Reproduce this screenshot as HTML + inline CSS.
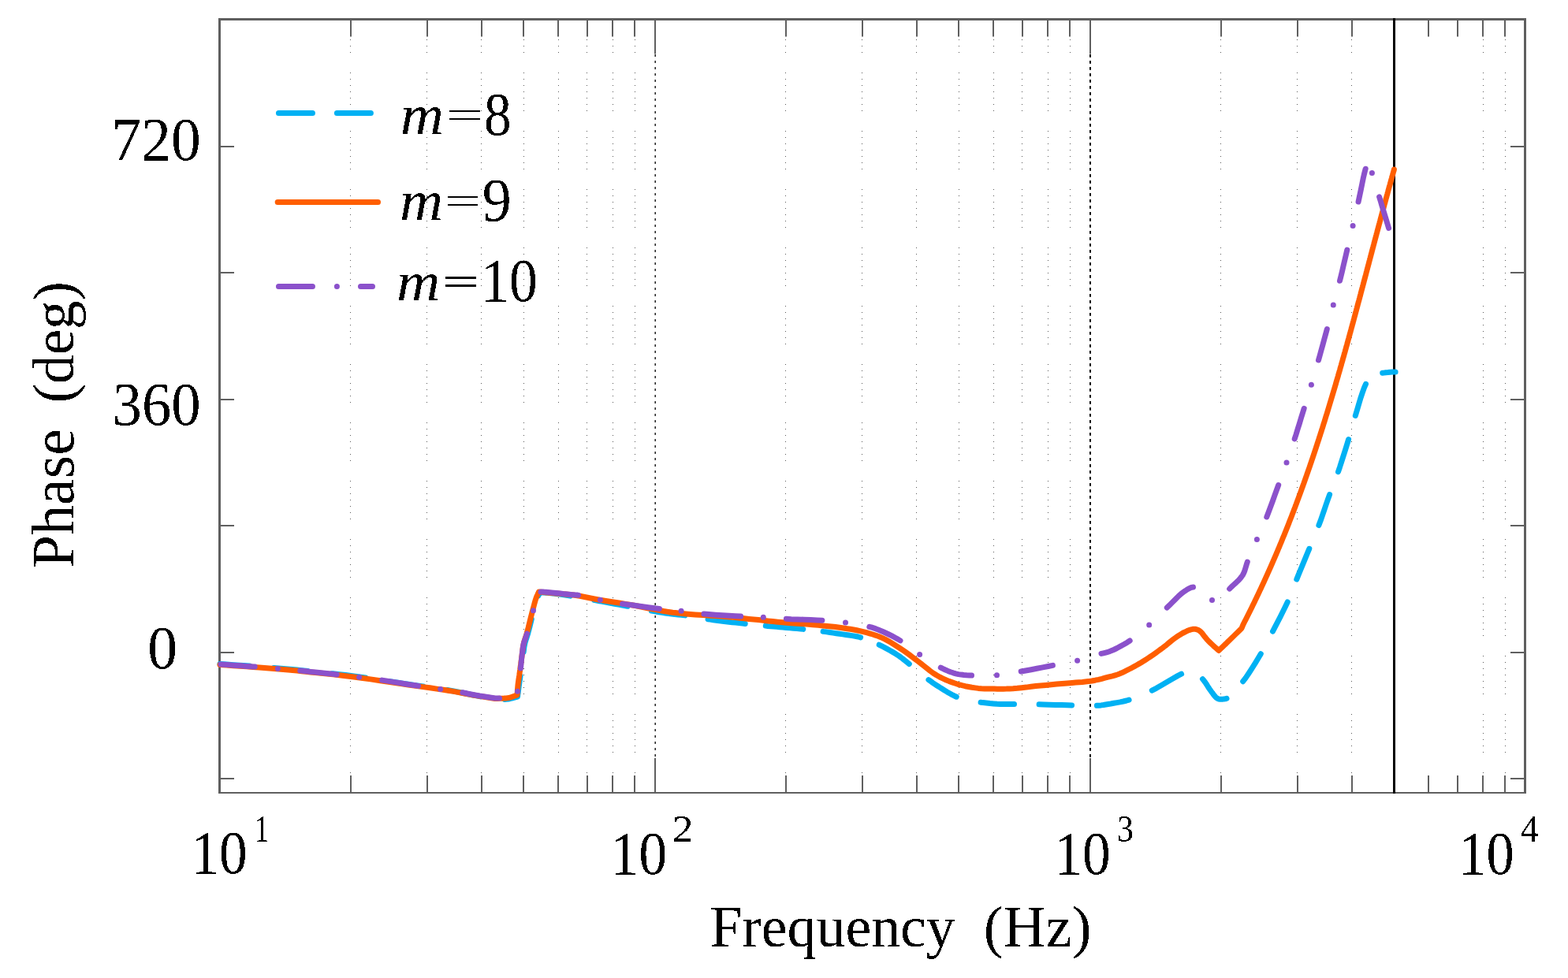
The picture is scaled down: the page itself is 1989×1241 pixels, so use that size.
<!DOCTYPE html>
<html><head><meta charset="utf-8"><title>Phase plot</title>
<style>
html,body{margin:0;padding:0;background:#fff;}
body{width:1989px;height:1241px;overflow:hidden;}
svg{display:block;}
text{font-family:"Liberation Serif","Times New Roman",serif;fill:#000;}
</style></head><body>
<svg width="1989" height="1241" viewBox="0 0 1989 1241">
<rect x="0" y="0" width="1989" height="1241" fill="#fff"/>
<line x1="444.5" y1="26" x2="444.5" y2="1005" stroke="#5a5a5a" stroke-width="1" stroke-dasharray="1 7 1 7 1 7 1 7 1 7 1 7 1 25" stroke-dashoffset="8"/>
<line x1="541.5" y1="26" x2="541.5" y2="1005" stroke="#5a5a5a" stroke-width="1" stroke-dasharray="1 7 1 7 1 7 1 7 1 7 1 7 1 25" stroke-dashoffset="8"/>
<line x1="610.5" y1="26" x2="610.5" y2="1005" stroke="#5a5a5a" stroke-width="1" stroke-dasharray="1 7 1 7 1 7 1 7 1 7 1 7 1 25" stroke-dashoffset="8"/>
<line x1="664.5" y1="26" x2="664.5" y2="1005" stroke="#5a5a5a" stroke-width="1" stroke-dasharray="1 7 1 7 1 7 1 7 1 7 1 7 1 25" stroke-dashoffset="8"/>
<line x1="708.5" y1="26" x2="708.5" y2="1005" stroke="#5a5a5a" stroke-width="1" stroke-dasharray="1 7 1 7 1 7 1 7 1 7 1 7 1 25" stroke-dashoffset="8"/>
<line x1="744.5" y1="26" x2="744.5" y2="1005" stroke="#5a5a5a" stroke-width="1" stroke-dasharray="1 7 1 7 1 7 1 7 1 7 1 7 1 25" stroke-dashoffset="8"/>
<line x1="777.5" y1="26" x2="777.5" y2="1005" stroke="#5a5a5a" stroke-width="1" stroke-dasharray="1 7 1 7 1 7 1 7 1 7 1 7 1 25" stroke-dashoffset="8"/>
<line x1="805.5" y1="26" x2="805.5" y2="1005" stroke="#5a5a5a" stroke-width="1" stroke-dasharray="1 7 1 7 1 7 1 7 1 7 1 7 1 25" stroke-dashoffset="8"/>
<line x1="996.5" y1="26" x2="996.5" y2="1005" stroke="#5a5a5a" stroke-width="1" stroke-dasharray="1 7 1 7 1 7 1 7 1 7 1 7 1 25" stroke-dashoffset="8"/>
<line x1="1093.5" y1="26" x2="1093.5" y2="1005" stroke="#5a5a5a" stroke-width="1" stroke-dasharray="1 7 1 7 1 7 1 7 1 7 1 7 1 25" stroke-dashoffset="8"/>
<line x1="1162.5" y1="26" x2="1162.5" y2="1005" stroke="#5a5a5a" stroke-width="1" stroke-dasharray="1 7 1 7 1 7 1 7 1 7 1 7 1 25" stroke-dashoffset="8"/>
<line x1="1216.5" y1="26" x2="1216.5" y2="1005" stroke="#5a5a5a" stroke-width="1" stroke-dasharray="1 7 1 7 1 7 1 7 1 7 1 7 1 25" stroke-dashoffset="8"/>
<line x1="1260.5" y1="26" x2="1260.5" y2="1005" stroke="#5a5a5a" stroke-width="1" stroke-dasharray="1 7 1 7 1 7 1 7 1 7 1 7 1 25" stroke-dashoffset="8"/>
<line x1="1296.5" y1="26" x2="1296.5" y2="1005" stroke="#5a5a5a" stroke-width="1" stroke-dasharray="1 7 1 7 1 7 1 7 1 7 1 7 1 25" stroke-dashoffset="8"/>
<line x1="1329.5" y1="26" x2="1329.5" y2="1005" stroke="#5a5a5a" stroke-width="1" stroke-dasharray="1 7 1 7 1 7 1 7 1 7 1 7 1 25" stroke-dashoffset="8"/>
<line x1="1357.5" y1="26" x2="1357.5" y2="1005" stroke="#5a5a5a" stroke-width="1" stroke-dasharray="1 7 1 7 1 7 1 7 1 7 1 7 1 25" stroke-dashoffset="8"/>
<line x1="1548.5" y1="26" x2="1548.5" y2="1005" stroke="#5a5a5a" stroke-width="1" stroke-dasharray="1 7 1 7 1 7 1 7 1 7 1 7 1 25" stroke-dashoffset="8"/>
<line x1="1645.5" y1="26" x2="1645.5" y2="1005" stroke="#5a5a5a" stroke-width="1" stroke-dasharray="1 7 1 7 1 7 1 7 1 7 1 7 1 25" stroke-dashoffset="8"/>
<line x1="1714.5" y1="26" x2="1714.5" y2="1005" stroke="#5a5a5a" stroke-width="1" stroke-dasharray="1 7 1 7 1 7 1 7 1 7 1 7 1 25" stroke-dashoffset="8"/>
<line x1="1768.5" y1="26" x2="1768.5" y2="1005" stroke="#5a5a5a" stroke-width="1" stroke-dasharray="1 7 1 7 1 7 1 7 1 7 1 7 1 25" stroke-dashoffset="8"/>
<line x1="1881.5" y1="26" x2="1881.5" y2="1005" stroke="#5a5a5a" stroke-width="1" stroke-dasharray="1 7 1 7 1 7 1 7 1 7 1 7 1 25" stroke-dashoffset="8"/>
<line x1="1909.5" y1="26" x2="1909.5" y2="1005" stroke="#5a5a5a" stroke-width="1" stroke-dasharray="1 7 1 7 1 7 1 7 1 7 1 7 1 25" stroke-dashoffset="8"/>
<line x1="831.2" y1="26" x2="831.2" y2="1005" stroke="#222" stroke-width="1.5" stroke-dasharray="3 5" stroke-dashoffset="5"/>
<line x1="1383" y1="26" x2="1383" y2="1005" stroke="#000" stroke-width="2" stroke-dasharray="3.7 4.3" stroke-dashoffset="5"/>
<line x1="445.0" y1="24.5" x2="445.0" y2="46.5" stroke="#5f5f5f" stroke-width="2"/>
<line x1="445.0" y1="1006.0" x2="445.0" y2="984.0" stroke="#5f5f5f" stroke-width="2"/>
<line x1="542.0" y1="24.5" x2="542.0" y2="46.5" stroke="#5f5f5f" stroke-width="2"/>
<line x1="542.0" y1="1006.0" x2="542.0" y2="984.0" stroke="#5f5f5f" stroke-width="2"/>
<line x1="611.0" y1="24.5" x2="611.0" y2="46.5" stroke="#5f5f5f" stroke-width="2"/>
<line x1="611.0" y1="1006.0" x2="611.0" y2="984.0" stroke="#5f5f5f" stroke-width="2"/>
<line x1="664.0" y1="24.5" x2="664.0" y2="46.5" stroke="#5f5f5f" stroke-width="2"/>
<line x1="664.0" y1="1006.0" x2="664.0" y2="984.0" stroke="#5f5f5f" stroke-width="2"/>
<line x1="708.0" y1="24.5" x2="708.0" y2="46.5" stroke="#5f5f5f" stroke-width="2"/>
<line x1="708.0" y1="1006.0" x2="708.0" y2="984.0" stroke="#5f5f5f" stroke-width="2"/>
<line x1="745.0" y1="24.5" x2="745.0" y2="46.5" stroke="#5f5f5f" stroke-width="2"/>
<line x1="745.0" y1="1006.0" x2="745.0" y2="984.0" stroke="#5f5f5f" stroke-width="2"/>
<line x1="777.0" y1="24.5" x2="777.0" y2="46.5" stroke="#5f5f5f" stroke-width="2"/>
<line x1="777.0" y1="1006.0" x2="777.0" y2="984.0" stroke="#5f5f5f" stroke-width="2"/>
<line x1="805.0" y1="24.5" x2="805.0" y2="46.5" stroke="#5f5f5f" stroke-width="2"/>
<line x1="805.0" y1="1006.0" x2="805.0" y2="984.0" stroke="#5f5f5f" stroke-width="2"/>
<line x1="831.0" y1="24.5" x2="831.0" y2="68.5" stroke="#5f5f5f" stroke-width="2"/>
<line x1="831.0" y1="1006.0" x2="831.0" y2="962.0" stroke="#5f5f5f" stroke-width="2"/>
<line x1="997.0" y1="24.5" x2="997.0" y2="46.5" stroke="#5f5f5f" stroke-width="2"/>
<line x1="997.0" y1="1006.0" x2="997.0" y2="984.0" stroke="#5f5f5f" stroke-width="2"/>
<line x1="1094.0" y1="24.5" x2="1094.0" y2="46.5" stroke="#5f5f5f" stroke-width="2"/>
<line x1="1094.0" y1="1006.0" x2="1094.0" y2="984.0" stroke="#5f5f5f" stroke-width="2"/>
<line x1="1163.0" y1="24.5" x2="1163.0" y2="46.5" stroke="#5f5f5f" stroke-width="2"/>
<line x1="1163.0" y1="1006.0" x2="1163.0" y2="984.0" stroke="#5f5f5f" stroke-width="2"/>
<line x1="1216.0" y1="24.5" x2="1216.0" y2="46.5" stroke="#5f5f5f" stroke-width="2"/>
<line x1="1216.0" y1="1006.0" x2="1216.0" y2="984.0" stroke="#5f5f5f" stroke-width="2"/>
<line x1="1260.0" y1="24.5" x2="1260.0" y2="46.5" stroke="#5f5f5f" stroke-width="2"/>
<line x1="1260.0" y1="1006.0" x2="1260.0" y2="984.0" stroke="#5f5f5f" stroke-width="2"/>
<line x1="1297.0" y1="24.5" x2="1297.0" y2="46.5" stroke="#5f5f5f" stroke-width="2"/>
<line x1="1297.0" y1="1006.0" x2="1297.0" y2="984.0" stroke="#5f5f5f" stroke-width="2"/>
<line x1="1329.0" y1="24.5" x2="1329.0" y2="46.5" stroke="#5f5f5f" stroke-width="2"/>
<line x1="1329.0" y1="1006.0" x2="1329.0" y2="984.0" stroke="#5f5f5f" stroke-width="2"/>
<line x1="1357.0" y1="24.5" x2="1357.0" y2="46.5" stroke="#5f5f5f" stroke-width="2"/>
<line x1="1357.0" y1="1006.0" x2="1357.0" y2="984.0" stroke="#5f5f5f" stroke-width="2"/>
<line x1="1383.0" y1="24.5" x2="1383.0" y2="68.5" stroke="#5f5f5f" stroke-width="2"/>
<line x1="1383.0" y1="1006.0" x2="1383.0" y2="962.0" stroke="#5f5f5f" stroke-width="2"/>
<line x1="1549.0" y1="24.5" x2="1549.0" y2="46.5" stroke="#5f5f5f" stroke-width="2"/>
<line x1="1549.0" y1="1006.0" x2="1549.0" y2="984.0" stroke="#5f5f5f" stroke-width="2"/>
<line x1="1646.0" y1="24.5" x2="1646.0" y2="46.5" stroke="#5f5f5f" stroke-width="2"/>
<line x1="1646.0" y1="1006.0" x2="1646.0" y2="984.0" stroke="#5f5f5f" stroke-width="2"/>
<line x1="1715.0" y1="24.5" x2="1715.0" y2="46.5" stroke="#5f5f5f" stroke-width="2"/>
<line x1="1715.0" y1="1006.0" x2="1715.0" y2="984.0" stroke="#5f5f5f" stroke-width="2"/>
<line x1="1768.0" y1="24.5" x2="1768.0" y2="46.5" stroke="#5f5f5f" stroke-width="2"/>
<line x1="1768.0" y1="1006.0" x2="1768.0" y2="984.0" stroke="#5f5f5f" stroke-width="2"/>
<line x1="1812.0" y1="24.5" x2="1812.0" y2="46.5" stroke="#5f5f5f" stroke-width="2"/>
<line x1="1812.0" y1="1006.0" x2="1812.0" y2="984.0" stroke="#5f5f5f" stroke-width="2"/>
<line x1="1849.0" y1="24.5" x2="1849.0" y2="46.5" stroke="#5f5f5f" stroke-width="2"/>
<line x1="1849.0" y1="1006.0" x2="1849.0" y2="984.0" stroke="#5f5f5f" stroke-width="2"/>
<line x1="1881.0" y1="24.5" x2="1881.0" y2="46.5" stroke="#5f5f5f" stroke-width="2"/>
<line x1="1881.0" y1="1006.0" x2="1881.0" y2="984.0" stroke="#5f5f5f" stroke-width="2"/>
<line x1="1909.0" y1="24.5" x2="1909.0" y2="46.5" stroke="#5f5f5f" stroke-width="2"/>
<line x1="1909.0" y1="1006.0" x2="1909.0" y2="984.0" stroke="#5f5f5f" stroke-width="2"/>
<line x1="278.5" y1="186.0" x2="297.0" y2="186.0" stroke="#5f5f5f" stroke-width="2"/>
<line x1="1934.5" y1="186.0" x2="1916.0" y2="186.0" stroke="#5f5f5f" stroke-width="2"/>
<line x1="278.5" y1="346.0" x2="297.0" y2="346.0" stroke="#5f5f5f" stroke-width="2"/>
<line x1="1934.5" y1="346.0" x2="1916.0" y2="346.0" stroke="#5f5f5f" stroke-width="2"/>
<line x1="278.5" y1="507.0" x2="297.0" y2="507.0" stroke="#5f5f5f" stroke-width="2"/>
<line x1="1934.5" y1="507.0" x2="1916.0" y2="507.0" stroke="#5f5f5f" stroke-width="2"/>
<line x1="278.5" y1="667.0" x2="297.0" y2="667.0" stroke="#5f5f5f" stroke-width="2"/>
<line x1="1934.5" y1="667.0" x2="1916.0" y2="667.0" stroke="#5f5f5f" stroke-width="2"/>
<line x1="278.5" y1="828.0" x2="297.0" y2="828.0" stroke="#5f5f5f" stroke-width="2"/>
<line x1="1934.5" y1="828.0" x2="1916.0" y2="828.0" stroke="#5f5f5f" stroke-width="2"/>
<line x1="278.5" y1="988.0" x2="297.0" y2="988.0" stroke="#5f5f5f" stroke-width="2"/>
<line x1="1934.5" y1="988.0" x2="1916.0" y2="988.0" stroke="#5f5f5f" stroke-width="2"/>
<rect x="277" y="23" width="3" height="984" fill="#5f5f5f"/>
<rect x="1933" y="23" width="3" height="984" fill="#5f5f5f"/>
<rect x="277" y="23" width="1659" height="3" fill="#5f5f5f"/>
<rect x="277" y="1005" width="1659" height="2" fill="#5f5f5f"/>
<rect x="1767" y="23" width="3" height="984" fill="#000"/>
<polyline points="279.0,842.5 287.4,843.1 296.0,843.7 304.5,844.2 312.9,844.8 321.1,845.4 329.0,846.0 335.4,846.5 341.6,847.0 347.7,847.5 353.6,848.0 359.5,848.5 365.5,849.0 371.2,849.5 376.9,850.1 382.5,850.7 388.1,851.2 394.0,851.9 400.0,852.5 407.3,853.3 414.8,854.0 422.5,854.8 430.4,855.7 438.5,856.6 447.0,857.7 458.1,859.2 470.0,860.9 482.3,862.8 494.6,864.6 506.6,866.5 518.0,868.2 527.3,869.6 536.5,870.9 545.4,872.2 554.0,873.4 562.3,874.7 570.0,876.0 575.5,877.0 580.7,878.0 585.6,879.0 590.4,880.0 595.2,881.0 600.0,882.0 604.7,882.9 609.4,883.9 614.1,884.8 618.7,885.7 623.3,886.6 628.0,887.5 630.9,887.5 633.8,887.5 636.7,887.5 639.6,887.4 642.4,887.3 645.0,887.0 647.1,886.6 649.0,886.2 650.9,885.6 652.8,885.1 654.6,884.5 656.5,884.0 656.8,881.5 657.2,879.1 657.5,876.6 657.8,874.1 658.1,871.6 658.5,869.0 658.9,866.0 659.4,862.9 659.8,859.7 660.3,856.5 660.8,853.2 661.2,850.0 661.6,846.6 662.1,843.2 662.5,839.8 663.0,836.4 663.4,833.1 663.8,830.0 664.1,827.7 664.4,825.4 664.6,823.3 664.9,821.2 665.3,819.1 665.7,817.0 666.2,814.9 666.8,813.0 667.4,811.0 668.1,809.0 668.8,806.8 669.5,804.5 670.5,800.7 671.6,796.6 672.7,792.1 673.8,787.6 674.9,783.2 676.0,779.0 676.9,775.4 677.8,771.8 678.8,768.2 679.7,764.8 680.6,761.7 681.5,759.0 682.1,757.6 682.7,756.4 683.2,755.2 683.8,754.2 684.4,753.1 685.0,752.0 686.9,752.1 688.8,752.1 690.7,752.1 692.6,752.2 694.7,752.3 697.0,752.5 701.0,752.9 705.4,753.5 710.1,754.1 715.0,754.8 720.0,755.6 725.0,756.4 730.7,757.3 736.5,758.3 742.4,759.4 748.4,760.5 754.5,761.6 760.5,762.7 766.8,763.8 773.2,765.0 779.6,766.2 786.0,767.4 792.1,768.6 798.0,769.7 802.6,770.6 807.1,771.5 811.4,772.3 815.6,773.1 819.8,773.9 824.0,774.7 828.0,775.4 832.1,776.1 836.0,776.8 840.0,777.4 844.0,778.0 848.0,778.6 852.1,779.1 856.1,779.5 860.2,779.9 864.3,780.3 868.4,780.8 872.5,781.3 876.6,781.9 880.7,782.6 884.8,783.4 888.9,784.1 892.2,784.7" fill="none" stroke="#00b1f3" stroke-width="7" stroke-linecap="round" stroke-linejoin="round" stroke-dasharray="43 30.95" stroke-dashoffset="5.40"/>
<polyline points="898.1,785.7 900.9,786.1 904.8,786.7 908.7,787.2 912.6,787.7 916.5,788.2 920.5,788.7 924.7,789.2 928.9,789.7 933.2,790.1 937.5,790.6 941.8,791.1 945.2,791.4" fill="none" stroke="#00b1f3" stroke-width="7" stroke-linecap="round" stroke-linejoin="round"/>
<polyline points="971.3,794.1 973.8,794.4 977.6,794.7 981.4,795.0 985.2,795.3 989.1,795.7 993.0,796.0 997.4,796.4 1001.9,796.8 1006.4,797.2 1011.0,797.6 1015.5,798.0 1018.8,798.4" fill="none" stroke="#00b1f3" stroke-width="7" stroke-linecap="round" stroke-linejoin="round"/>
<polyline points="1044.1,801.3 1044.7,801.4 1048.8,801.9 1052.8,802.5 1056.9,803.1 1060.9,803.7 1065.0,804.3 1069.0,804.9 1073.0,805.5 1076.9,806.0 1080.9,806.6 1084.8,807.2 1088.7,808.0 1091.6,808.8" fill="none" stroke="#00b1f3" stroke-width="7" stroke-linecap="round" stroke-linejoin="round"/>
<polyline points="1115.2,818.2 1115.5,818.3 1119.7,820.4 1123.9,822.6 1128.2,825.0 1132.4,827.4 1136.4,829.8 1140.0,832.2 1142.6,834.0 1144.9,835.7 1147.1,837.5 1149.3,839.2 1151.6,841.1 1153.3,842.5" fill="none" stroke="#00b1f3" stroke-width="7" stroke-linecap="round" stroke-linejoin="round"/>
<polyline points="1177.9,862.6 1180.2,864.2 1183.1,866.3 1186.1,868.3 1189.0,870.2 1192.0,872.1 1195.0,874.0 1198.1,875.9 1201.3,877.9 1204.5,879.8 1207.8,881.6 1211.0,883.2 1213.2,884.2" fill="none" stroke="#00b1f3" stroke-width="7" stroke-linecap="round" stroke-linejoin="round"/>
<polyline points="1244.1,891.2 1246.9,891.6 1251.2,892.0 1255.7,892.5 1260.3,892.9 1264.7,893.3 1268.9,893.5 1272.1,893.6 1275.2,893.6 1278.1,893.6 1281.1,893.6 1284.2,893.5 1286.5,893.5" fill="none" stroke="#00b1f3" stroke-width="7" stroke-linecap="round" stroke-linejoin="round"/>
<polyline points="1318.1,893.8 1324.0,894.0 1331.3,894.2 1338.8,894.4 1346.4,894.6 1353.7,894.8 1359.6,895.0" fill="none" stroke="#00b1f3" stroke-width="7" stroke-linecap="round" stroke-linejoin="round"/>
<polyline points="1391.4,895.3 1393.7,895.2 1396.8,894.9 1399.8,894.5 1402.7,894.0 1405.7,893.5 1408.9,893.0 1412.7,892.3 1416.7,891.6 1420.8,890.9 1424.9,890.0 1429.0,889.0 1432.1,888.1" fill="none" stroke="#00b1f3" stroke-width="7" stroke-linecap="round" stroke-linejoin="round"/>
<polyline points="1461.3,876.1 1466.8,873.3 1473.8,869.3 1481.0,865.1 1487.9,861.0 1494.2,857.4 1498.6,855.2" fill="none" stroke="#00b1f3" stroke-width="7" stroke-linecap="round" stroke-linejoin="round"/>
<polyline points="1525.5,861.6 1526.9,863.3 1529.0,866.1 1530.9,869.0 1532.7,872.0 1534.6,874.8 1536.4,877.3 1537.8,879.1 1539.1,881.0 1540.5,882.7 1541.8,884.3 1543.2,885.6 1544.7,886.5 1546.0,887.0 1547.5,887.2 1549.0,887.3 1550.4,887.3 1551.8,887.1 1553.0,887.0 1553.7,886.9 1554.3,886.8 1554.9,886.7 1555.5,886.5 1556.0,886.3" fill="none" stroke="#00b1f3" stroke-width="7" stroke-linecap="round" stroke-linejoin="round"/>
<polyline points="1576.7,864.7 1580.2,860.1 1584.3,854.0 1588.4,847.6 1592.5,841.1 1596.3,834.8 1599.3,829.7" fill="none" stroke="#00b1f3" stroke-width="7" stroke-linecap="round" stroke-linejoin="round"/>
<polyline points="1614.5,801.1 1617.2,795.9 1620.6,789.3 1624.1,782.6 1627.5,775.8 1630.7,769.2 1633.2,763.9" fill="none" stroke="#00b1f3" stroke-width="7" stroke-linecap="round" stroke-linejoin="round"/>
<polyline points="1644.8,735.1 1647.0,729.6 1649.8,722.8 1652.8,715.7 1655.7,708.7 1658.5,701.8 1660.8,696.3" fill="none" stroke="#00b1f3" stroke-width="7" stroke-linecap="round" stroke-linejoin="round"/>
<polyline points="1672.9,666.6 1675.0,661.1 1677.4,654.2 1679.8,647.1 1682.2,640.0 1684.6,633.1 1686.6,627.6" fill="none" stroke="#00b1f3" stroke-width="7" stroke-linecap="round" stroke-linejoin="round"/>
<polyline points="1697.5,598.6 1699.5,592.8 1701.8,585.6 1704.2,578.1 1706.6,570.6 1708.8,563.4 1710.6,557.6" fill="none" stroke="#00b1f3" stroke-width="7" stroke-linecap="round" stroke-linejoin="round"/>
<polyline points="1719.3,527.5 1721.1,521.6 1723.3,514.0 1725.6,506.2 1728.1,498.7 1730.5,491.9 1732.5,487.3" fill="none" stroke="#00b1f3" stroke-width="7" stroke-linecap="round" stroke-linejoin="round"/>
<polyline points="1753.7,473.3 1755.2,473.1 1757.9,472.8 1760.7,472.6 1763.3,472.3 1765.7,472.1 1767.6,472.0 1768.3,472.0 1768.9,471.9 1769.5,471.9 1770.0,471.9 1770.1,471.9" fill="none" stroke="#00b1f3" stroke-width="7" stroke-linecap="round" stroke-linejoin="round"/>
<polyline points="279.0,843.5 287.4,844.1 296.0,844.7 304.5,845.2 312.9,845.8 321.1,846.4 329.0,847.0 335.4,847.5 341.6,848.0 347.7,848.5 353.6,849.0 359.5,849.5 365.5,850.0 371.2,850.5 376.9,851.1 382.5,851.7 388.1,852.2 394.0,852.9 400.0,853.5 407.3,854.3 414.8,855.0 422.5,855.8 430.4,856.7 438.5,857.7 447.0,858.7 458.1,860.2 470.0,861.9 482.3,863.7 494.6,865.5 506.6,867.3 518.0,869.0 527.3,870.3 536.5,871.6 545.4,872.8 554.0,874.1 562.3,875.3 570.0,876.5 575.5,877.4 580.7,878.4 585.6,879.3 590.4,880.2 595.2,881.1 600.0,882.0 604.7,882.8 609.4,883.6 614.1,884.3 618.7,885.0 623.3,885.8 628.0,886.5 630.9,886.4 633.8,886.3 636.7,886.2 639.6,886.1 642.4,885.9 645.0,885.5 647.0,885.1 648.9,884.5 650.7,883.9 652.4,883.3 654.2,882.6 656.0,882.0 656.2,879.9 656.3,877.8 656.4,875.7 656.6,873.5 656.8,871.3 657.0,869.0 657.4,866.0 657.8,862.9 658.3,859.8 658.8,856.5 659.2,853.2 659.7,850.0 660.1,846.6 660.6,843.2 661.0,839.8 661.5,836.4 661.9,833.1 662.3,830.0 662.6,827.7 662.9,825.4 663.1,823.3 663.4,821.2 663.8,819.1 664.2,817.0 664.7,814.9 665.3,813.0 665.9,811.0 666.6,809.0 667.3,806.8 668.0,804.5 669.0,800.7 670.1,796.6 671.2,792.1 672.3,787.6 673.4,783.2 674.5,779.0 675.4,775.4 676.4,771.8 677.3,768.3 678.2,764.9 679.1,761.8 680.0,759.0 680.6,757.4 681.2,756.0 681.8,754.8 682.3,753.5 682.9,752.3 683.5,751.0 686.2,751.2 688.8,751.5 691.4,751.7 694.1,752.0 697.0,752.2 700.0,752.5 704.5,752.9 709.5,753.3 714.7,753.8 720.0,754.3 725.3,754.8 730.5,755.5 735.5,756.3 740.4,757.2 745.4,758.2 750.3,759.2 755.4,760.2 760.7,761.2 766.9,762.2 773.4,763.3 779.9,764.3 786.6,765.3 793.3,766.4 800.0,767.5 807.1,768.8 814.4,770.2 821.7,771.7 828.9,773.1 835.7,774.4 842.0,775.5 846.1,776.1 849.8,776.7 853.3,777.2 856.8,777.6 860.7,778.0 865.0,778.5 872.9,779.2 882.0,779.9 891.7,780.5 901.7,781.2 911.2,781.8 920.0,782.5 926.4,783.1 932.5,783.6 938.4,784.2 944.2,784.8 950.1,785.4 956.0,786.0 962.1,786.6 968.2,787.3 974.2,787.9 980.4,788.6 986.6,789.2 993.0,789.8 1000.3,790.4 1008.0,791.0 1015.7,791.5 1023.4,792.1 1030.9,792.7 1038.0,793.3 1043.7,793.9 1049.2,794.4 1054.6,795.0 1059.8,795.6 1065.0,796.3 1070.0,797.0 1074.4,797.7 1078.6,798.3 1082.8,799.0 1086.9,799.8 1090.9,800.6 1095.0,801.6 1099.1,802.7 1103.1,803.8 1107.1,805.0 1111.1,806.3 1115.1,807.7 1119.0,809.4 1123.1,811.4 1127.2,813.6 1131.2,816.0 1135.2,818.5 1139.1,821.0 1143.0,823.5 1146.6,825.9 1150.1,828.4 1153.6,830.9 1157.0,833.5 1160.5,836.1 1164.0,838.7 1167.9,841.7 1171.8,844.9 1175.8,848.1 1179.8,851.2 1183.9,854.2 1188.0,856.8 1191.9,859.0 1195.8,860.9 1199.8,862.7 1203.8,864.4 1207.9,865.9 1212.0,867.3 1216.1,868.6 1220.2,869.7 1224.4,870.7 1228.6,871.5 1232.8,872.3 1237.0,872.9 1241.0,873.4 1245.0,873.7 1249.0,873.9 1253.0,874.0 1257.0,874.0 1261.0,874.1 1264.9,874.2 1268.8,874.2 1272.7,874.2 1276.7,874.1 1280.7,873.9 1285.0,873.7 1290.4,873.3 1296.1,872.7 1301.9,872.1 1307.9,871.3 1314.0,870.6 1320.0,870.0 1326.6,869.4 1333.5,868.7 1340.4,868.1 1347.3,867.5 1353.8,867.0 1360.0,866.4 1364.5,866.0 1368.8,865.7 1372.9,865.4 1376.9,865.0 1380.9,864.6 1385.0,864.0 1389.2,863.2 1393.4,862.3 1397.6,861.3 1401.7,860.2 1405.6,859.2 1409.0,858.3 1411.1,857.8 1412.9,857.3 1414.6,856.8 1416.3,856.3 1418.1,855.7 1420.0,855.0 1422.9,853.8 1426.0,852.3 1429.3,850.7 1432.6,849.0 1435.9,847.3 1439.0,845.6 1441.9,844.0 1444.7,842.4 1447.6,840.7 1450.3,839.0 1453.2,837.2 1456.0,835.4 1459.2,833.3 1462.4,831.1 1465.6,828.8 1468.8,826.5 1472.0,824.2 1475.0,822.0 1477.6,819.9 1480.2,817.9 1482.7,815.8 1485.2,813.7 1487.6,811.8 1490.0,810.0 1492.0,808.6 1494.0,807.2 1496.0,805.9 1498.0,804.7 1500.0,803.5 1502.0,802.5 1503.9,801.6 1505.9,800.6 1507.9,799.8 1509.8,799.1 1511.7,798.6 1513.5,798.3 1514.8,798.3 1516.1,798.3 1517.3,798.5 1518.5,798.9 1519.8,799.3 1521.0,800.0 1522.9,801.5 1524.8,803.4 1526.6,805.8 1528.5,808.3 1530.5,810.7 1532.5,813.0 1534.7,815.1 1536.9,817.2 1539.1,819.3 1541.4,821.4 1543.7,823.4 1546.0,825.5 1548.3,823.3 1550.7,821.0 1553.0,818.8 1555.3,816.6 1557.6,814.3 1560.0,812.0 1562.5,809.6 1565.0,807.1 1567.5,804.6 1570.0,802.2 1572.5,799.7 1575.0,797.2 1575.4,796.3 1575.7,795.5 1576.1,794.6 1576.4,793.8 1576.8,792.9 1577.2,792.0 1577.7,791.0 1578.2,790.0 1578.7,789.0 1579.2,788.0 1579.8,787.0 1580.3,786.0 1580.8,785.0 1581.3,784.0 1581.8,783.0 1582.3,782.0 1582.8,781.0 1583.3,780.0 1583.8,779.0 1584.3,778.0 1584.8,777.0 1585.3,776.0 1585.8,775.0 1586.3,774.0 1586.8,773.0 1587.3,772.0 1587.8,771.0 1588.3,770.0 1588.7,769.0 1589.2,768.0 1589.7,767.0 1590.2,766.0 1590.7,765.0 1591.2,764.0 1591.7,763.0 1592.1,762.0 1592.6,761.0 1593.1,760.0 1593.6,759.0 1594.1,758.0 1594.5,757.0 1595.0,756.0 1595.5,755.0 1596.0,754.0 1596.4,753.0 1596.9,752.0 1597.4,751.0 1597.8,750.0 1598.3,749.0 1598.8,748.0 1599.3,747.0 1599.7,746.0 1600.2,745.0 1600.6,744.0 1601.1,743.0 1601.6,742.0 1602.0,741.0 1602.5,740.0 1603.0,739.0 1603.4,738.0 1603.9,737.0 1604.3,736.0 1604.8,735.0 1605.2,734.0 1605.7,733.0 1606.1,732.0 1606.6,731.0 1607.1,730.0 1607.5,729.0 1607.9,728.0 1608.4,727.0 1608.8,726.0 1609.3,725.0 1609.7,724.0 1610.2,723.0 1610.6,722.0 1611.1,721.0 1611.5,720.0 1612.0,719.0 1612.4,718.0 1612.8,717.0 1613.3,716.0 1613.7,715.0 1614.1,714.0 1614.6,713.0 1615.0,712.0 1615.4,711.0 1615.9,710.0 1616.3,709.0 1616.7,708.0 1617.2,707.0 1617.6,706.0 1618.0,705.0 1618.5,704.0 1618.9,703.0 1619.3,702.0 1619.7,701.0 1620.2,700.0 1620.6,699.0 1621.0,698.0 1621.4,697.0 1621.8,696.0 1622.3,695.0 1622.7,694.0 1623.1,693.0 1623.5,692.0 1623.9,691.0 1624.3,690.0 1624.8,689.0 1625.2,688.0 1625.6,687.0 1626.0,686.0 1626.4,685.0 1626.8,684.0 1627.2,683.0 1627.6,682.0 1628.0,681.0 1628.5,680.0 1628.9,679.0 1629.3,678.0 1629.7,677.0 1630.1,676.0 1630.5,675.0 1630.9,674.0 1631.3,673.0 1631.7,672.0 1632.1,671.0 1632.5,670.0 1632.9,669.0 1633.3,668.0 1633.7,667.0 1634.1,666.0 1634.5,665.0 1634.9,664.0 1635.2,663.0 1635.6,662.0 1636.0,661.0 1636.4,660.0 1636.8,659.0 1637.2,658.0 1637.6,657.0 1638.0,656.0 1638.4,655.0 1638.8,654.0 1639.1,653.0 1639.5,652.0 1639.9,651.0 1640.3,650.0 1640.7,649.0 1641.1,648.0 1641.4,647.0 1641.8,646.0 1642.2,645.0 1642.6,644.0 1643.0,643.0 1643.3,642.0 1643.7,641.0 1644.1,640.0 1644.5,639.0 1644.8,638.0 1645.2,637.0 1645.6,636.0 1645.9,635.0 1646.3,634.0 1646.7,633.0 1647.1,632.0 1647.4,631.0 1647.8,630.0 1648.2,629.0 1648.5,628.0 1648.9,627.0 1649.3,626.0 1649.6,625.0 1650.0,624.0 1650.4,623.0 1650.7,622.0 1651.1,621.0 1651.4,620.0 1651.8,619.0 1652.2,618.0 1652.5,617.0 1652.9,616.0 1653.2,615.0 1653.6,614.0 1654.0,613.0 1654.3,612.0 1654.7,611.0 1655.0,610.0 1655.4,609.0 1655.7,608.0 1656.1,607.0 1656.4,606.0 1656.8,605.0 1657.1,604.0 1657.5,603.0 1657.8,602.0 1658.2,601.0 1658.5,600.0 1658.9,599.0 1659.2,598.0 1659.6,597.0 1659.9,596.0 1660.3,595.0 1660.6,594.0 1661.0,593.0 1661.3,592.0 1661.7,591.0 1662.0,590.0 1662.3,589.0 1662.7,588.0 1663.0,587.0 1663.4,586.0 1663.7,585.0 1664.0,584.0 1664.4,583.0 1664.7,582.0 1665.1,581.0 1665.4,580.0 1665.7,579.0 1666.1,578.0 1666.4,577.0 1666.7,576.0 1667.1,575.0 1667.4,574.0 1667.7,573.0 1668.1,572.0 1668.4,571.0 1668.7,570.0 1669.1,569.0 1669.4,568.0 1669.7,567.0 1670.0,566.0 1670.4,565.0 1670.7,564.0 1671.0,563.0 1671.3,562.0 1671.7,561.0 1672.0,560.0 1672.3,559.0 1672.7,558.0 1673.0,557.0 1673.3,556.0 1673.6,555.0 1673.9,554.0 1674.3,553.0 1674.6,552.0 1674.9,551.0 1675.2,550.0 1675.5,549.0 1675.9,548.0 1676.2,547.0 1676.5,546.0 1676.8,545.0 1677.1,544.0 1677.5,543.0 1677.8,542.0 1678.1,541.0 1678.4,540.0 1678.7,539.0 1679.0,538.0 1679.3,537.0 1679.7,536.0 1680.0,535.0 1680.3,534.0 1680.6,533.0 1680.9,532.0 1681.2,531.0 1681.5,530.0 1681.8,529.0 1682.1,528.0 1682.4,527.0 1682.8,526.0 1683.1,525.0 1683.4,524.0 1683.7,523.0 1684.0,522.0 1684.3,521.0 1684.6,520.0 1684.9,519.0 1685.2,518.0 1685.5,517.0 1685.8,516.0 1686.1,515.0 1686.4,514.0 1686.7,513.0 1687.0,512.0 1687.3,511.0 1687.6,510.0 1687.9,509.0 1688.2,508.0 1688.5,507.0 1688.8,506.0 1689.1,505.0 1689.4,504.0 1689.7,503.0 1690.0,502.0 1690.3,501.0 1690.6,500.0 1690.9,499.0 1691.2,498.0 1691.5,497.0 1691.8,496.0 1692.1,495.0 1692.4,494.0 1692.7,493.0 1693.0,492.0 1693.3,491.0 1693.6,490.0 1693.9,489.0 1694.2,488.0 1694.5,487.0 1694.7,486.0 1695.0,485.0 1695.3,484.0 1695.6,483.0 1695.9,482.0 1696.2,481.0 1696.5,480.0 1696.8,479.0 1697.1,478.0 1697.4,477.0 1697.6,476.0 1697.9,475.0 1698.2,474.0 1698.5,473.0 1698.8,472.0 1699.1,471.0 1699.4,470.0 1699.7,469.0 1699.9,468.0 1700.2,467.0 1700.5,466.0 1700.8,465.0 1701.1,464.0 1701.4,463.0 1701.6,462.0 1701.9,461.0 1702.2,460.0 1702.5,459.0 1702.8,458.0 1703.1,457.0 1703.3,456.0 1703.6,455.0 1703.9,454.0 1704.2,453.0 1704.5,452.0 1704.8,451.0 1705.0,450.0 1705.3,449.0 1705.6,448.0 1705.9,447.0 1706.2,446.0 1706.4,445.0 1706.7,444.0 1707.0,443.0 1707.3,442.0 1707.5,441.0 1707.8,440.0 1708.1,439.0 1708.4,438.0 1708.7,437.0 1708.9,436.0 1709.2,435.0 1709.5,434.0 1709.8,433.0 1710.0,432.0 1710.3,431.0 1710.6,430.0 1710.9,429.0 1711.1,428.0 1711.4,427.0 1711.7,426.0 1712.0,425.0 1712.2,424.0 1712.5,423.0 1712.8,422.0 1713.1,421.0 1713.3,420.0 1713.6,419.0 1713.9,418.0 1714.1,417.0 1714.4,416.0 1714.7,415.0 1715.0,414.0 1715.2,413.0 1715.5,412.0 1715.8,411.0 1716.1,410.0 1716.3,409.0 1716.6,408.0 1716.9,407.0 1717.1,406.0 1717.4,405.0 1717.7,404.0 1717.9,403.0 1718.2,402.0 1718.5,401.0 1718.8,400.0 1719.0,399.0 1719.3,398.0 1719.6,397.0 1719.8,396.0 1720.1,395.0 1720.4,394.0 1720.6,393.0 1720.9,392.0 1721.2,391.0 1721.4,390.0 1721.7,389.0 1722.0,388.0 1722.2,387.0 1722.5,386.0 1722.8,385.0 1723.0,384.0 1723.3,383.0 1723.6,382.0 1723.9,381.0 1724.1,380.0 1724.4,379.0 1724.7,378.0 1724.9,377.0 1725.2,376.0 1725.5,375.0 1725.7,374.0 1726.0,373.0 1726.2,372.0 1726.5,371.0 1726.8,370.0 1727.0,369.0 1727.3,368.0 1727.6,367.0 1727.8,366.0 1728.1,365.0 1728.4,364.0 1728.6,363.0 1728.9,362.0 1729.2,361.0 1729.4,360.0 1729.7,359.0 1730.0,358.0 1730.2,357.0 1730.5,356.0 1730.8,355.0 1731.0,354.0 1731.3,353.0 1731.6,352.0 1731.8,351.0 1732.1,350.0 1732.4,349.0 1732.6,348.0 1732.9,347.0 1733.1,346.0 1733.4,345.0 1733.7,344.0 1733.9,343.0 1734.2,342.0 1734.5,341.0 1734.7,340.0 1735.0,339.0 1735.3,338.0 1735.5,337.0 1735.8,336.0 1736.1,335.0 1736.3,334.0 1736.6,333.0 1736.8,332.0 1737.1,331.0 1737.4,330.0 1737.6,329.0 1737.9,328.0 1738.2,327.0 1738.4,326.0 1738.7,325.0 1739.0,324.0 1739.2,323.0 1739.5,322.0 1739.8,321.0 1740.0,320.0 1740.3,319.0 1740.5,318.0 1740.8,317.0 1741.1,316.0 1741.3,315.0 1741.6,314.0 1741.9,313.0 1742.1,312.0 1742.4,311.0 1742.7,310.0 1742.9,309.0 1743.2,308.0 1743.5,307.0 1743.7,306.0 1744.0,305.0 1744.3,304.0 1744.5,303.0 1744.8,302.0 1745.1,301.0 1745.3,300.0 1745.6,299.0 1745.9,298.0 1746.1,297.0 1746.4,296.0 1746.7,295.0 1746.9,294.0 1747.2,293.0 1747.5,292.0 1747.7,291.0 1748.0,290.0 1748.3,289.0 1748.5,288.0 1748.8,287.0 1749.1,286.0 1749.3,285.0 1749.6,284.0 1749.9,283.0 1750.1,282.0 1750.4,281.0 1750.7,280.0 1750.9,279.0 1751.2,278.0 1751.5,277.0 1751.7,276.0 1752.0,275.0 1752.3,274.0 1752.5,273.0 1752.8,272.0 1753.1,271.0 1753.3,270.0 1753.6,269.0 1753.9,268.0 1754.1,267.0 1754.4,266.0 1754.7,265.0 1755.0,264.0 1755.2,263.0 1755.5,262.0 1755.8,261.0 1756.0,260.0 1756.3,259.0 1756.6,258.0 1756.9,257.0 1757.1,256.0 1757.4,255.0 1757.7,254.0 1757.9,253.0 1758.2,252.0 1758.5,251.0 1758.8,250.0 1759.0,249.0 1759.3,248.0 1759.6,247.0 1759.9,246.0 1760.1,245.0 1760.4,244.0 1760.7,243.0 1760.9,242.0 1761.2,241.0 1761.5,240.0 1761.8,239.0 1762.0,238.0 1762.3,237.0 1762.6,236.0 1762.9,235.0 1763.2,234.0 1763.4,233.0 1763.7,232.0 1764.0,231.0 1764.3,230.0 1764.5,229.0 1764.8,228.0 1765.1,227.0 1765.4,226.0 1765.6,225.0 1765.9,224.0 1766.2,223.0 1766.5,222.0 1766.8,220.9 1767.1,219.8 1767.4,218.7 1767.7,217.6 1768.0,216.7 1768.2,216.0 1768.2,215.8 1768.3,215.6 1768.3,215.4 1768.4,215.3 1768.4,215.2 1768.4,215.0" fill="none" stroke="#ff5e00" stroke-width="7" stroke-linejoin="round" stroke-linecap="round"/>
<polyline points="280.0,843.1 287.6,843.6 296.4,844.2 305.2,844.8 313.7,845.4 321.8,846.0 323.2,846.1" fill="none" stroke="#8b51cb" stroke-width="7" stroke-linecap="round" stroke-linejoin="round"/>
<circle cx="352.4" cy="848.5" r="3.5" fill="#8b51cb"/>
<polyline points="380.8,851.0 382.0,851.1 388.2,851.8 394.3,852.4 400.0,853.0 404.9,853.5 409.8,854.0 414.5,854.5 419.2,855.0 423.7,855.5 427.2,855.9" fill="none" stroke="#8b51cb" stroke-width="7" stroke-linecap="round" stroke-linejoin="round"/>
<circle cx="455.6" cy="859.3" r="3.5" fill="#8b51cb"/>
<polyline points="484.7,863.1 489.7,863.9 495.8,864.9 501.9,865.9 507.8,866.8 513.2,867.7 518.0,868.5 520.6,868.9 522.8,869.2 524.9,869.5 527.0,869.8 529.1,870.1 530.6,870.4" fill="none" stroke="#8b51cb" stroke-width="7" stroke-linecap="round" stroke-linejoin="round"/>
<circle cx="558.7" cy="874.5" r="3.5" fill="#8b51cb"/>
<polyline points="586.9,878.7 588.2,879.0 590.5,879.4 592.7,880.0 595.0,880.5 597.4,881.0 600.0,881.5 604.1,882.2 608.6,883.0 613.4,883.7 618.3,884.5 623.2,885.2 628.0,886.0 629.1,886.0 630.1,886.0 631.2,886.0 632.3,886.1 633.4,886.0 633.6,886.0" fill="none" stroke="#8b51cb" stroke-width="7" stroke-linecap="round" stroke-linejoin="round"/>
<circle cx="656.5" cy="877.3" r="3.5" fill="#8b51cb"/>
<polyline points="660.4,848.0 660.7,845.8 661.0,842.5 661.3,839.2 661.6,836.0 662.0,833.0 662.3,830.0 662.6,827.7 662.8,825.5 663.1,823.4 663.4,821.3 663.7,819.1 664.2,817.0 664.8,814.7 665.6,812.4 666.4,810.1 667.2,807.8 668.0,805.5 668.4,804.2" fill="none" stroke="#8b51cb" stroke-width="7" stroke-linecap="round" stroke-linejoin="round"/>
<circle cx="676.5" cy="774.8" r="3.5" fill="#8b51cb"/>
<polyline points="686.0,751.1 686.3,751.1 687.7,751.1 689.2,751.1 690.8,751.2 692.6,751.3 697.0,751.7 702.4,752.2 708.3,752.8 714.3,753.5 719.8,754.0 724.3,754.5 726.3,754.7 728.0,754.8 729.6,754.9 731.1,755.0 732.8,755.1 733.7,755.3" fill="none" stroke="#8b51cb" stroke-width="7" stroke-linecap="round" stroke-linejoin="round"/>
<circle cx="761.4" cy="761.2" r="3.5" fill="#8b51cb"/>
<polyline points="789.6,766.3 790.2,766.4 791.4,766.6 792.6,766.7 793.7,766.8 795.1,766.9 796.7,767.1 801.6,767.8 808.1,768.7 815.3,769.7 822.4,770.7 828.6,771.5 832.9,772.1 833.9,772.2 834.6,772.3 835.2,772.4 835.8,772.4 836.4,772.5" fill="none" stroke="#8b51cb" stroke-width="7" stroke-linecap="round" stroke-linejoin="round"/>
<circle cx="864.1" cy="775.3" r="3.5" fill="#8b51cb"/>
<polyline points="892.9,779.0 899.4,779.6 907.6,780.2 916.2,780.7 924.9,781.2 933.1,781.7 939.6,782.0" fill="none" stroke="#8b51cb" stroke-width="7" stroke-linecap="round" stroke-linejoin="round"/>
<circle cx="968.3" cy="783.3" r="3.5" fill="#8b51cb"/>
<polyline points="997.4,785.3 1003.7,785.7 1011.8,786.0 1020.1,786.2 1028.5,786.5 1036.5,786.9 1042.9,787.2" fill="none" stroke="#8b51cb" stroke-width="7" stroke-linecap="round" stroke-linejoin="round"/>
<circle cx="1072.5" cy="790.1" r="3.5" fill="#8b51cb"/>
<polyline points="1102.8,795.3 1105.1,795.9 1108.2,796.9 1111.1,797.9 1114.0,799.0 1116.9,800.2 1120.0,801.5 1123.7,803.2 1127.5,805.0 1131.4,806.9 1135.2,809.0 1139.1,811.1 1142.0,812.9" fill="none" stroke="#8b51cb" stroke-width="7" stroke-linecap="round" stroke-linejoin="round"/>
<circle cx="1166.6" cy="830.5" r="3.5" fill="#8b51cb"/>
<polyline points="1193.3,847.1 1195.8,848.4 1199.2,850.0 1202.5,851.4 1205.8,852.7 1209.1,853.8 1212.5,854.8 1215.9,855.6 1219.3,856.1 1222.7,856.5 1226.1,856.8 1229.7,857.0 1232.5,857.1" fill="none" stroke="#8b51cb" stroke-width="7" stroke-linecap="round" stroke-linejoin="round"/>
<circle cx="1264.5" cy="856.8" r="3.5" fill="#8b51cb"/>
<polyline points="1295.2,852.0 1300.9,851.0 1308.0,849.7 1315.3,848.3 1322.6,846.9 1329.7,845.5 1335.4,844.4" fill="none" stroke="#8b51cb" stroke-width="7" stroke-linecap="round" stroke-linejoin="round"/>
<circle cx="1366.6" cy="838.2" r="3.5" fill="#8b51cb"/>
<polyline points="1397.0,829.4 1398.4,829.1 1400.6,828.6 1402.6,828.1 1404.5,827.6 1406.6,827.0 1408.9,826.1 1412.7,824.5 1416.8,822.5 1421.1,820.2 1425.5,817.8 1429.9,815.2 1433.2,813.0" fill="none" stroke="#8b51cb" stroke-width="7" stroke-linecap="round" stroke-linejoin="round"/>
<circle cx="1457.7" cy="793.0" r="3.5" fill="#8b51cb"/>
<polyline points="1480.3,771.1 1483.4,768.1 1487.3,764.1 1491.2,760.2 1495.0,756.4 1498.7,753.1 1502.2,750.5 1504.4,749.1 1506.5,747.7 1508.5,746.6 1510.5,745.7 1512.5,745.2 1513.5,745.1" fill="none" stroke="#8b51cb" stroke-width="7" stroke-linecap="round" stroke-linejoin="round"/>
<circle cx="1537.5" cy="761.5" r="3.5" fill="#8b51cb"/>
<polyline points="1559.7,747.1 1561.9,744.9 1565.0,742.0 1568.2,739.1 1571.2,736.2 1573.9,733.1 1576.2,730.0 1577.7,727.2 1578.8,724.4 1579.7,721.5 1580.6,718.5 1581.5,715.4 1582.3,713.1" fill="none" stroke="#8b51cb" stroke-width="7" stroke-linecap="round" stroke-linejoin="round"/>
<circle cx="1594.4" cy="684.5" r="3.5" fill="#8b51cb"/>
<polyline points="1606.8,655.9 1609.0,650.2 1611.7,643.1 1614.4,635.7 1617.0,628.3 1619.6,621.2 1621.7,615.5" fill="none" stroke="#8b51cb" stroke-width="7" stroke-linecap="round" stroke-linejoin="round"/>
<circle cx="1632.0" cy="587.0" r="3.5" fill="#8b51cb"/>
<polyline points="1642.2,556.9 1644.0,551.5 1646.1,544.6 1648.3,537.6 1650.4,530.6 1652.5,523.8 1654.2,518.3" fill="none" stroke="#8b51cb" stroke-width="7" stroke-linecap="round" stroke-linejoin="round"/>
<circle cx="1663.4" cy="488.3" r="3.5" fill="#8b51cb"/>
<polyline points="1672.5,457.0 1674.1,451.4 1676.0,444.4 1678.0,437.3 1679.9,430.1 1681.8,423.2 1683.3,417.6" fill="none" stroke="#8b51cb" stroke-width="7" stroke-linecap="round" stroke-linejoin="round"/>
<circle cx="1691.3" cy="387.0" r="3.5" fill="#8b51cb"/>
<polyline points="1699.5,356.3 1700.9,350.8 1702.6,343.8 1704.2,336.7 1705.9,329.6 1707.5,322.7 1708.8,317.1" fill="none" stroke="#8b51cb" stroke-width="7" stroke-linecap="round" stroke-linejoin="round"/>
<circle cx="1716.1" cy="286.4" r="3.5" fill="#8b51cb"/>
<polyline points="1723.1,256.0 1724.4,249.8 1726.1,241.7 1727.8,233.4 1729.4,225.5 1731.0,218.6 1732.2,214.2" fill="none" stroke="#8b51cb" stroke-width="7" stroke-linecap="round" stroke-linejoin="round"/>
<circle cx="1740.4" cy="219.4" r="3.5" fill="#8b51cb"/>
<polyline points="1749.6,249.8 1751.3,255.3 1753.3,262.2 1755.5,269.2 1757.6,276.3 1759.8,283.5 1761.6,289.5" fill="none" stroke="#8b51cb" stroke-width="7" stroke-linecap="round" stroke-linejoin="round"/>
<line x1="353.45" y1="143.4" x2="470.5" y2="143.4" stroke="#00b1f3" stroke-width="7" stroke-linecap="round" stroke-dasharray="43 30.95"/>
<line x1="352.2" y1="256.5" x2="479.5" y2="256.5" stroke="#ff5e00" stroke-width="7" stroke-linecap="round"/>
<line x1="353.45" y1="363.4" x2="472.5" y2="363.4" stroke="#8b51cb" stroke-width="7" stroke-linecap="round" stroke-dasharray="43 30.95 0.001 30.1"/>
<defs><filter id="crisp" x="-5%" y="-5%" width="110%" height="110%"><feComponentTransfer><feFuncA type="discrete" tableValues="0 1"/></feComponentTransfer></filter></defs>
<g filter="url(#crisp)">
<text transform="translate(141.57,202.80) scale(1.006,1.037)" font-size="75">720</text>
<text transform="translate(142.62,538.90) scale(0.996,1.045)" font-size="75">360</text>
<text transform="translate(187.27,848.00) scale(1.009,1.041)" font-size="75">0</text>
<text transform="translate(242.22,1107.70) scale(0.954,1.041)" font-size="75">10</text>
<text transform="translate(774.18,1108.70) scale(0.960,1.041)" font-size="75">10</text>
<text transform="translate(1337.32,1108.70) scale(0.954,1.041)" font-size="75">10</text>
<text transform="translate(1850.32,1108.70) scale(0.940,1.041)" font-size="75">10</text>
<text transform="translate(322.92,1068.10) scale(0.771,1.006)" font-size="48">1</text>
<text transform="translate(852.78,1068.00) scale(1.111,1.003)" font-size="48">2</text>
<text transform="translate(1417.06,1068.00) scale(0.870,1.003)" font-size="48">3</text>
<text transform="translate(1928.83,1068.00) scale(0.968,1.003)" font-size="48">4</text>
<text transform="translate(900.23,1201.00) scale(0.984,1.000)" font-size="75">Frequency</text>
<text transform="translate(1247.81,1200.80) scale(0.995,1.000)" font-size="75">(Hz)</text>
<text transform="translate(93.00,721.02) scale(1.020,1.011) rotate(-90)" font-size="75">Phase</text>
<text transform="translate(92.79,511.22) scale(0.994,0.974) rotate(-90)" font-size="75">(deg)</text>
<text transform="translate(507.84,170.30) scale(1.021,0.963)" font-size="75" font-style="italic">m</text>
<text transform="translate(565.42,163.26) scale(1.120,0.684)" font-size="75">=</text>
<text transform="translate(613.93,170.80) scale(0.925,1.039)" font-size="75">8</text>
<text transform="translate(507.05,278.90) scale(1.017,0.949)" font-size="75" font-style="italic">m</text>
<text transform="translate(563.45,272.26) scale(1.111,0.684)" font-size="75">=</text>
<text transform="translate(611.73,279.90) scale(0.987,1.041)" font-size="75">9</text>
<text transform="translate(503.04,380.80) scale(1.021,0.937)" font-size="75" font-style="italic">m</text>
<text transform="translate(560.42,374.62) scale(1.120,0.695)" font-size="75">=</text>
<text transform="translate(609.99,381.50) scale(0.958,1.033)" font-size="75">10</text>
</g>
</svg>
</body></html>
